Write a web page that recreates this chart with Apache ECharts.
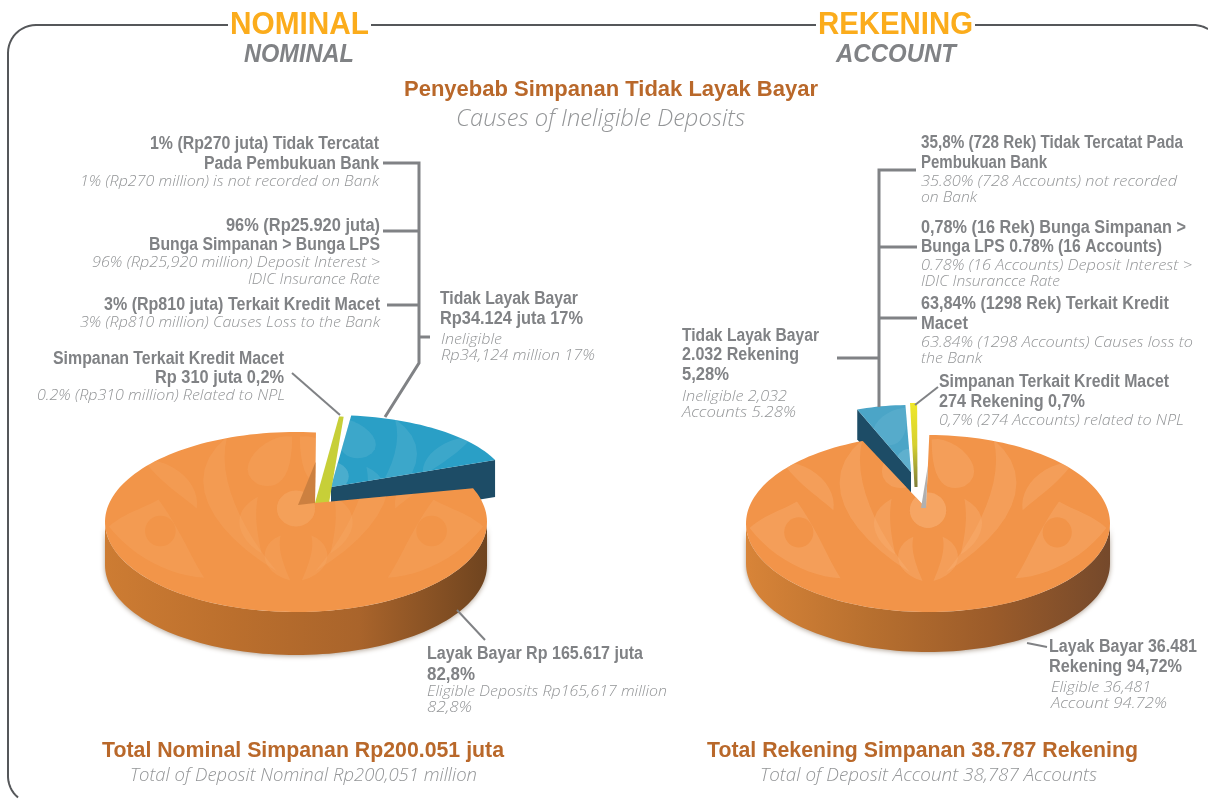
<!DOCTYPE html>
<html>
<head>
<meta charset="utf-8">
<title>Penyebab Simpanan Tidak Layak Bayar</title>
<style>
  html, body { margin: 0; padding: 0; background: #fff; }
  #chart { width: 1208px; height: 801px; }
</style>
<script src="https://cdn.jsdelivr.net/npm/echarts@6/dist/echarts.min.js"></script>
</head>
<body>
<div id="chart"></div>
<script>
// values, in Rp juta and in accounts
const nominalNames = ['Layak Bayar', 'Tidak Layak Bayar', 'Simpanan Terkait Kredit Macet']
const nominalValues = [165617, 34124, 310]
const accountNames = ['Layak Bayar', 'Simpanan Terkait Kredit Macet', 'Tidak Layak Bayar']
const accountValues = [36481, 274, 2032]

const grey = '#808285'
const lightGrey = '#939597'
const brown = '#b9682a'
const amber = '#fbac1c'

const fonts = {
  head: 'bold 32px "Liberation Sans Narrow", "Liberation Sans"',
  sub: 'italic bold 25px "Liberation Sans"',
  title: 'bold 22px "Liberation Sans"',
  titleEn: 'italic 300 23px "Open Sans"',
  label: 'bold 18px "Liberation Sans Narrow", "Liberation Sans"',
  en: 'italic 300 15px "Open Sans"',
  total: 'bold 22px "Liberation Sans"',
  totalEn: 'italic 300 18px "Open Sans"'
}
const colors = {
  head: amber, sub: grey, title: brown, titleEn: lightGrey, label: grey,
  en: lightGrey, total: brown, totalEn: lightGrey
}

// text, left, right, middle y, style
const textRows = [
  ['NOMINAL', 230, 369, 25, 'head'],
  ['NOMINAL', 244, 354, 55, 'sub'],
  ['REKENING', 818, 973, 25, 'head'],
  ['ACCOUNT', 836, 956, 55, 'sub'],
  ['Penyebab Simpanan Tidak Layak Bayar', 404, 818, 90, 'title'],
  ['Causes of Ineligible Deposits', 456, 745, 119, 'titleEn'],

  ['1% (Rp270 juta) Tidak Tercatat', 150, 379, 144, 'label'],
  ['Pada Pembukuan Bank', 204, 379, 164, 'label'],
  ['1% (Rp270 million) is not recorded on Bank', 80, 379, 182, 'en'],
  ['96% (Rp25.920 juta)', 226, 380, 226, 'label'],
  ['Bunga Simpanan > Bunga LPS', 149, 380, 245, 'label'],
  ['96% (Rp25,920 million) Deposit Interest >', 92, 380, 263, 'en'],
  ['IDIC Insurance Rate', 248, 380, 280, 'en'],
  ['3% (Rp810 juta) Terkait Kredit Macet', 104, 380, 305, 'label'],
  ['3% (Rp810 million) Causes Loss to the Bank', 80, 380, 323, 'en'],
  ['Simpanan Terkait Kredit Macet', 53, 284, 359, 'label'],
  ['Rp 310 juta 0,2%', 155, 284, 378, 'label'],
  ['0.2% (Rp310 million) Related to NPL', 37, 285, 396, 'en'],
  ['Tidak Layak Bayar', 440, 578, 299, 'label'],
  ['Rp34.124 juta 17%', 440, 583, 319, 'label'],
  ['Ineligible', 441, 502, 340, 'en'],
  ['Rp34,124 million 17%', 441, 595, 356, 'en'],
  ['Layak Bayar Rp 165.617 juta', 427, 643, 654, 'label'],
  ['82,8%', 427, 475, 675, 'label'],
  ['Eligible Deposits Rp165,617 million', 427, 667, 692, 'en'],
  ['82,8%', 427, 472, 708, 'en'],
  ['Total Nominal Simpanan Rp200.051 juta', 102, 504, 751, 'total'],
  ['Total of Deposit Nominal Rp200,051 million', 130, 477, 776, 'totalEn'],

  ['35,8% (728 Rek) Tidak Tercatat Pada', 921, 1183, 143, 'label'],
  ['Pembukuan Bank', 921, 1047, 163, 'label'],
  ['35.80% (728 Accounts) not recorded', 921, 1177, 182, 'en'],
  ['on Bank', 921, 977, 198, 'en'],
  ['0,78% (16 Rek) Bunga Simpanan >', 921, 1186, 228, 'label'],
  ['Bunga LPS 0.78% (16 Accounts)', 921, 1162, 247, 'label'],
  ['0.78% (16 Accounts) Deposit Interest >', 921, 1192, 266, 'en'],
  ['IDIC Insurancce Rate', 921, 1060, 282, 'en'],
  ['63,84% (1298 Rek) Terkait Kredit', 921, 1169, 304, 'label'],
  ['Macet', 921, 968, 324, 'label'],
  ['63.84% (1298 Accounts) Causes loss to', 921, 1193, 343, 'en'],
  ['the Bank', 921, 982, 359, 'en'],
  ['Simpanan Terkait Kredit Macet', 939, 1169, 382, 'label'],
  ['274 Rekening 0,7%', 939, 1085, 402, 'label'],
  ['0,7% (274 Accounts) related to NPL', 939, 1184, 421, 'en'],
  ['Tidak Layak Bayar', 682, 819, 336, 'label'],
  ['2.032 Rekening', 682, 799, 355, 'label'],
  ['5,28%', 682, 729, 375, 'label'],
  ['Ineligible 2,032', 682, 787, 397, 'en'],
  ['Accounts 5.28%', 682, 796, 413, 'en'],
  ['Layak Bayar 36.481', 1049, 1197, 647, 'label'],
  ['Rekening 94,72%', 1049, 1182, 667, 'label'],
  ['Eligible 36,481', 1051, 1151, 688, 'en'],
  ['Account 94.72%', 1051, 1167, 704, 'en'],
  ['Total Rekening Simpanan 38.787 Rekening', 707, 1138, 751, 'total'],
  ['Total of Deposit Account 38,787 Accounts', 760, 1097, 776, 'totalEn']
]

// leader lines: width, then points
const leaderLines = [
  [3, [[383, 163], [419, 163], [419, 363], [385, 417]]],
  [3, [[383, 231], [419, 231]]],
  [3, [[387, 305], [419, 305]]],
  [3, [[419, 337], [430, 337]]],
  [2, [[292, 373], [340, 415]]],
  [2, [[457, 610], [485, 640]]],
  [3, [[916, 170], [879, 170], [879, 407]]],
  [3, [[917, 247], [879, 247]]],
  [3, [[917, 318], [879, 318]]],
  [3, [[837, 358], [879, 358]]],
  [2, [[938, 387], [915, 405]]],
  [2, [[1027, 643], [1047, 647]]]
]

// how each slice sits in the drawing, the picture is a tilted and exploded pie
const nominalLayout = {
  startAngle: 84,
  slices: [
    {
      c: [296, 522], apex: [315, 503], rx: 191, ry: 90, depth: 43, z: 10,
      fill: '#f29549', motif: '#f8b277', motifOpacity: 0.2,
      wallStops: ['#cd7c33', '#bb6f2d', '#a9642b', '#6f441f'],
      inner: { edge: 'start', t: 0.58, off: [-17, 2], color: '#cc8040' }
    },
    {
      c: [331, 487], rx: 177, ry: 72, z: 2, edgeWall: 'start', edgeDepth: 37,
      fill: '#2a9fc6', motif: '#7fc4dc', motifOpacity: 0.22, edgeColor: '#1d4c66'
    },
    { c: [322, 503], rx: 177, ry: 87, z: 3, minAngle: 1.5, apexWidth: 14, fill: '#c7cf38' }
  ]
}
const accountLayout = {
  startAngle: 111,
  slices: [
    {
      c: [928, 523.5], apex: [926, 508], rx: 182, ry: 88.5, depth: 40, z: 10,
      fill: '#f29449', motif: '#f8b277', motifOpacity: 0.34,
      wallStops: ['#d88438', '#b8702f', '#9c5c2a', '#75492b'],
      inner: { edge: 'end', t: 0.58, off: [-5, 0], color: '#b0b0b0' }
    },
    {
      c: [916, 487], rx: 160, ry: 84, z: 3, apexWidth: 3,
      fill: { type: 'linear', x: 0, y: 0, x2: 0, y2: 1, colorStops: [
        { offset: 0, color: '#efe82a' }, { offset: 0.5, color: '#d6d030' }, { offset: 1, color: '#7d7d3a' }
      ] }
    },
    {
      c: [911, 472], rx: 150, ry: 67, z: 2, edgeWall: 'end', edgeDepth: 30,
      fill: '#4ba5c7', motif: '#7fc4dc', motifOpacity: 0.22, edgeColor: '#1d4c66'
    }
  ]
}

// background ornament of the slices, in units of the ellipse radii: start, then bezier triples
const motifShapes = [
  [[-0.36, -0.95], [-0.62, -0.5], [-0.45, 0.1], [-0.1, 0.55], [-0.28, 0.1], [-0.42, -0.5], [-0.36, -0.95]],
  [[-0.8, -0.7], [-0.62, -0.68], [-0.5, -0.4], [-0.52, -0.15], [-0.6, -0.3], [-0.72, -0.45], [-0.8, -0.7]],
  [[-0.03, 0.65], [-0.2, 0.55], [-0.2, 0.25], [-0.08, 0.15], [-0.1, 0.3], [-0.06, 0.5], [-0.03, 0.65]],
  [[-0.18, 0.35], [-0.3, 0.2], [-0.36, -0.1], [-0.2, -0.28], [-0.22, -0.05], [-0.2, 0.15], [-0.18, 0.35]],
  [[0.02, -0.95], [0.15, -1], [0.35, -0.6], [0.2, -0.42], [0.1, -0.35], [0.02, -0.45], [0.02, -0.95]],
  [[-0.98, 0.05], [-0.9, -0.1], [-0.8, -0.15], [-0.72, -0.25], [-0.6, 0.1], [-0.55, 0.4], [-0.48, 0.62],
    [-0.65, 0.6], [-0.85, 0.4], [-0.98, 0.05]]
]
// rings and dots: centre u, v, outer radii, inner radii
const motifRings = [
  [-0.71, 0.1, 0, 0, 0.08, 0.17],
  [0, -0.15, 0.1, 0.2, 0, 0]
]

function ringPoints(s, u, v, ru, rv, flip) {
  const pts = []
  for (let a = 0; a < 360; a += 10) {
    const r = a * Math.PI / 180
    pts.push([s.c[0] + flip * (u + ru * Math.cos(r)) * s.rx, s.c[1] + (v + rv * Math.sin(r)) * s.ry])
  }
  return pts
}

function motifPolygons(s) {
  const out = []
  const toPx = (u, v, flip) => [s.c[0] + flip * u * s.rx, s.c[1] + v * s.ry]
  ;[1, -1].forEach((flip) => {
    motifShapes.forEach((shape) => {
      const pts = []
      for (let i = 0; i + 3 < shape.length; i += 3) {
        for (let k = 0; k <= 12; k++) {
          const t = k / 12, m = 1 - t
          const u = m * m * m * shape[i][0] + 3 * m * m * t * shape[i + 1][0] + 3 * m * t * t * shape[i + 2][0] + t * t * t * shape[i + 3][0]
          const v = m * m * m * shape[i][1] + 3 * m * m * t * shape[i + 1][1] + 3 * m * t * t * shape[i + 2][1] + t * t * t * shape[i + 3][1]
          pts.push(toPx(u, v, flip))
        }
      }
      out.push({ pts, color: s.motif, opacity: s.motifOpacity })
    })
    motifRings.forEach(([u, v, ru, rv, iu, iv]) => {
      if (ru) out.push({ pts: ringPoints(s, u, v, ru, rv, flip), color: s.motif, opacity: s.motifOpacity })
      if (iu) out.push({ pts: ringPoints(s, u, v, iu, iv, flip), color: s.fill, opacity: 1 })
    })
  })
  return out
}

function arcPoints(s, a0, a1, dy = 0) {
  const pts = []
  const n = Math.max(2, Math.ceil(Math.abs(a1 - a0) / 2))
  for (let i = 0; i <= n; i++) {
    const a = (a0 + (a1 - a0) * i / n) * Math.PI / 180
    pts.push([s.c[0] + s.rx * Math.cos(a), s.c[1] - s.ry * Math.sin(a) + dy])
  }
  return pts
}

function makeRenderItem(values, layout) {
  const total = values.reduce((a, b) => a + b, 0)
  const toAngle = (v) => echarts.number.linearMap(v, [0, total], [layout.startAngle, layout.startAngle + 360])
  return (params, api) => {
    const i = params.dataIndex
    const s = layout.slices[i]
    const before = values.slice(0, i).reduce((a, b) => a + b, 0)
    let a0 = toAngle(before)
    let a1 = toAngle(before + api.value(0))
    if (s.minAngle && a1 - a0 < s.minAngle) {
      const mid = (a0 + a1) / 2
      a0 = mid - s.minAngle / 2
      a1 = mid + s.minAngle / 2
    }
    const apex = s.apex || s.c
    const w = (s.apexWidth || 0) / 2
    const arc = arcPoints(s, a0, a1)
    const face = w
      ? [[apex[0] + w, apex[1]], ...arc, [apex[0] - w, apex[1]]]
      : [apex, ...arc]
    const children = []

    // outer wall, only the front half of the rim shows
    if (s.depth) {
      const front = arcPoints(s, 180, 360)
      const back = arcPoints(s, 360, 180, s.depth)
      children.push({
        type: 'polygon', z2: s.z,
        shape: { points: front.concat(back) },
        style: {
          fill: {
            type: 'linear', x: 0, y: 0, x2: 1, y2: 0,
            colorStops: s.wallStops.map((color, k) => ({ offset: k / (s.wallStops.length - 1), color }))
          },
          shadowBlur: 5, shadowColor: 'rgba(80,50,20,0.45)', shadowOffsetY: 1
        }
      })
    }
    // cut wall of an exploded slice
    if (s.edgeWall) {
      const p = arc[s.edgeWall === 'start' ? 0 : arc.length - 1]
      const d = s.edgeDepth
      children.push({
        type: 'polygon', z2: s.z - 1,
        shape: { points: [apex, p, [p[0], p[1] + d], [apex[0], apex[1] + d]] },
        style: { fill: s.edgeColor }
      })
    }
    children.push({ type: 'polygon', z2: s.z + 1, shape: { points: face }, style: { fill: s.fill } })
    if (s.motif) {
      motifPolygons(s).forEach((m, k) => {
        children.push({
          type: 'polygon', z2: s.z + 2,
          shape: { points: m.pts },
          clipPath: { type: 'polygon', shape: { points: face } },
          style: { fill: m.color, opacity: m.opacity }
        })
      })
    }
    if (s.inner) {
      const p = s.inner.edge === 'start' ? arc[0] : arc[arc.length - 1]
      const t = s.inner.t
      children.push({
        type: 'polygon', z2: s.z + 3,
        shape: { points: [
          apex,
          [apex[0] + (p[0] - apex[0]) * t, apex[1] + (p[1] - apex[1]) * t],
          [apex[0] + s.inner.off[0], apex[1] + s.inner.off[1]]
        ] },
        style: { fill: s.inner.color }
      })
    }
    return { type: 'group', children }
  }
}

function pieSeries(name, names, values, layout) {
  return {
    name,
    type: 'custom',
    coordinateSystem: 'none',
    silent: true,
    animation: false,
    renderItem: makeRenderItem(values, layout),
    data: values.map((v, i) => ({ name: names[i], value: [v] }))
  }
}

const measure = document.createElement('canvas').getContext('2d')
function textElement(row) {
  const [text, x0, x1, y, key] = row
  measure.font = fonts[key]
  return {
    type: 'text',
    x: x0,
    y,
    z: 20,
    silent: true,
    scaleX: (x1 - x0) / measure.measureText(text).width,
    style: { text, x: 0, y: 0, font: fonts[key], fill: colors[key], textAlign: 'left', textVerticalAlign: 'middle' }
  }
}

function corner(cx, cy, r, a0, a1) {
  const pts = []
  for (let i = 0; i <= 12; i++) {
    const a = (a0 + (a1 - a0) * i / 12) * Math.PI / 180
    pts.push([cx + r * Math.cos(a), cy + r * Math.sin(a)])
  }
  return pts
}
const frameLines = [
  [[228, 25], ...corner(36, 53, 28, 270, 180), ...corner(36, 776, 28, 180, 130)],
  [[371, 25], [816, 25]],
  [[975, 25], ...corner(1193, 55, 30, 270, 300)]
]

const lineElement = (points, lineWidth, stroke) => ({
  type: 'polyline', z: 15, silent: true,
  shape: { points },
  style: { stroke, lineWidth, fill: null, lineJoin: 'miter' }
})

const chart = echarts.init(document.getElementById('chart'), null, { renderer: 'canvas' })
chart.setOption({
  backgroundColor: '#fff',
  animation: false,
  series: [
    pieSeries('Nominal', nominalNames, nominalValues, nominalLayout),
    pieSeries('Rekening', accountNames, accountValues, accountLayout)
  ],
  graphic: { elements: [
    ...frameLines.map((pts) => lineElement(pts, 2, '#55575a')),
    ...leaderLines.map(([w, pts]) => lineElement(pts, w, grey)),
    ...textRows.map(textElement)
  ] }
})
</script>
</body>
</html>
